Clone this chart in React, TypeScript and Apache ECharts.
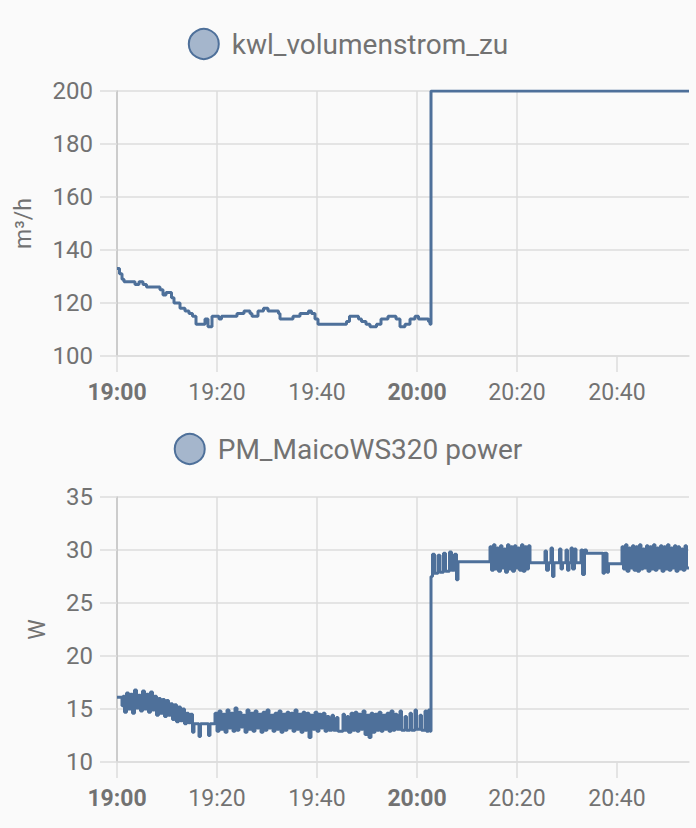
import React, { useEffect, useRef } from "react";
import * as echarts from "echarts";

// minutes after 19:00
const xTickMinutes = [0, 20, 40, 60, 80, 100];
const xMax = 114.4;

const topName = "kwl_volumenstrom_zu";
const topUnit = "m³/h";
const topData: [number, number][] = [
  [0, 133], [0.5, 131], [1.0, 129], [1.4, 128], [3.6, 127], [4.4, 128], [5.2, 127], [5.9, 126],
  [8.6, 125], [9.2, 123], [9.8, 124], [10.9, 122], [11.4, 120], [12.6, 118], [13.6, 117],
  [14.4, 116], [15.1, 115], [15.8, 112], [17.6, 114], [18.2, 111], [19.0, 115], [20.4, 114],
  [20.9, 115], [24.0, 116], [25.4, 117], [26.6, 116], [27.0, 115], [28.2, 117], [29.3, 118],
  [30.2, 117], [32.3, 116], [32.6, 114], [34.9, 114], [35.2, 115], [36.6, 116], [38.3, 117],
  [38.9, 116], [39.6, 114], [40.2, 112], [45.9, 113], [46.5, 115], [48.3, 114], [48.9, 113],
  [49.8, 112], [50.6, 111], [51.9, 112], [52.8, 114], [54.2, 115], [55.8, 114], [56.6, 111],
  [57.6, 112], [58.6, 114], [59.6, 115], [60.3, 114], [62.3, 113], [62.6, 112], [62.8, 200],
  [114.4, 200],
];

const bottomName = "PM_MaicoWS320 power";
const bottomUnit = "W";
const bottomData: [number, number][] = [
  [0, 16.1], [1.0, 15.3], [1.2, 16.2], [1.5, 14.7], [1.9, 16.5], [2.3, 15.0], [2.7, 16.4], [3.1, 14.6],
  [3.5, 16.8], [3.9, 15.1], [4.3, 16.3], [4.7, 14.8], [5.1, 16.7], [5.5, 15.0], [5.9, 16.4], [6.3, 14.7],
  [6.7, 16.6], [7.1, 14.9], [7.5, 16.2], [7.9, 14.4], [8.3, 16.0], [8.7, 14.6], [9.1, 15.9], [9.5, 14.3],
  [9.9, 15.8], [10.3, 14.4], [10.7, 15.5], [11.1, 14.0], [11.5, 15.4], [11.9, 13.8], [12.3, 15.2],
  [12.7, 13.9], [13.1, 15.0], [13.5, 13.6], [13.9, 14.6], [14.3, 13.7], [14.7, 14.5], [15.1, 12.8],
  [15.4, 13.6], [16.4, 12.4], [16.7, 13.6], [18.3, 12.5], [18.6, 13.6], [19.6, 14.6],
  [20.0, 12.9], [20.4, 14.8], [20.8, 13.1], [21.2, 14.5], [21.6, 12.8], [22.0, 14.9], [22.4, 13.2],
  [22.8, 14.6], [23.2, 12.9], [23.6, 15.1], [24.0, 13.0], [24.4, 14.7], [24.8, 13.3], [25.2, 14.4],
  [25.6, 12.8], [26.0, 14.9], [26.4, 13.1], [26.8, 14.6], [27.2, 12.9], [27.6, 14.8], [28.0, 13.2],
  [28.4, 14.5], [28.8, 12.8], [29.2, 14.7], [29.6, 13.0], [30.0, 14.9], [30.4, 13.2], [30.8, 14.4],
  [31.2, 12.9], [31.6, 14.6], [32.0, 13.1], [32.4, 14.8], [32.8, 12.8], [33.2, 14.5], [33.6, 13.0],
  [34.0, 14.7], [34.4, 13.2], [34.8, 14.6], [35.2, 12.9], [35.6, 14.9], [36.0, 13.1], [36.4, 14.5],
  [36.8, 12.8], [37.2, 14.7], [37.6, 13.0], [38.0, 14.6], [38.4, 12.3], [38.8, 14.4], [39.2, 13.1],
  [39.6, 14.7], [40.0, 12.9], [40.4, 14.5], [40.8, 13.2], [41.2, 14.6], [41.6, 12.9], [42.0, 14.3],
  [42.4, 13.0], [43.0, 14.4], [43.3, 13.0], [43.9, 14.2], [44.2, 12.9], [45.2, 14.5], [45.5, 13.0],
  [46.0, 14.3], [46.3, 12.8], [46.8, 14.6],
  [47.2, 13.0], [47.6, 14.7], [48.0, 12.9], [48.4, 14.5], [48.8, 13.1], [49.2, 14.8], [49.6, 12.6],
  [50.0, 14.4], [50.4, 12.3], [50.8, 14.6], [51.2, 12.8], [51.6, 14.5], [52.0, 13.0], [52.4, 14.7],
  [52.8, 12.9], [53.2, 14.4], [53.6, 13.1], [54.0, 14.6], [54.4, 12.9], [54.8, 14.8], [55.2, 13.0],
  [55.6, 14.5], [56.0, 13.1],
  [56.6, 14.8], [56.9, 13.0], [57.6, 14.3], [57.9, 13.0], [58.6, 14.6], [58.9, 13.0], [59.6, 14.9],
  [59.9, 13.1], [60.6, 14.4], [60.9, 13.0], [61.6, 14.8], [61.9, 12.9], [62.3, 14.9], [62.6, 12.9],
  [62.8, 27.5], [63.1, 29.6], [63.5, 27.8], [64.2, 29.5], [64.6, 27.9], [65.3, 29.7], [65.7, 28.0],
  [66.5, 29.8], [66.9, 28.1], [67.5, 29.6], [67.9, 27.2], [68.2, 28.9],
  [74.6, 30.3], [74.9, 28.1], [75.3, 30.5], [75.6, 28.2], [76.0, 30.2], [76.3, 28.0], [76.7, 30.4],
  [77.0, 28.3], [77.4, 30.1], [77.7, 27.9], [78.1, 30.5], [78.4, 28.2], [78.8, 30.3], [79.1, 28.0],
  [79.5, 30.4], [79.8, 28.3], [80.2, 30.2], [80.5, 28.1], [80.9, 30.5], [81.2, 28.0], [81.6, 30.3],
  [81.9, 28.2], [82.3, 30.4], [82.6, 28.8],
  [85.6, 29.9], [85.9, 28.1], [86.3, 28.8], [86.8, 30.2], [87.1, 27.5], [87.4, 28.8], [88.5, 30.1],
  [88.8, 28.2], [89.1, 28.8], [89.8, 30.0], [90.1, 28.1], [90.4, 28.8], [90.8, 30.2], [91.1, 28.2],
  [91.5, 30.1], [91.8, 28.8], [92.8, 30.0], [93.1, 27.7], [93.5, 30.0], [93.9, 29.7],
  [97.2, 27.8], [97.5, 29.7], [98.0, 27.9], [98.3, 28.7],
  [101.0, 30.3], [101.3, 28.2], [101.7, 30.5], [102.0, 28.0], [102.4, 30.2], [102.7, 28.3], [103.1, 30.4],
  [103.4, 28.1], [103.8, 30.3], [104.1, 28.0], [104.5, 30.5], [104.8, 28.2], [105.2, 30.1], [105.5, 28.3],
  [105.9, 30.4], [106.2, 28.0], [106.6, 30.3], [106.9, 28.2], [107.3, 30.5], [107.6, 28.1], [108.0, 30.2],
  [108.3, 28.3], [108.7, 30.4], [109.0, 28.0], [109.4, 30.3], [109.7, 28.2], [110.1, 30.5], [110.4, 28.1],
  [110.8, 30.2], [111.1, 28.3], [111.5, 30.4], [111.8, 28.0], [112.2, 30.3], [112.5, 28.2], [112.9, 30.1],
  [113.2, 28.1], [113.6, 30.4], [113.9, 28.3], [114.4, 28.3],
];

const lineColor = "#4e709a";
const legendFill = "#a5b6cc";
const textColor = "#727272";
const gridColor = "#dcdcdc";
const font = "Roboto";

function fmtTime(v: number) {
  const total = 19 * 60 + Math.round(v);
  const h = Math.floor(total / 60);
  const m = total % 60;
  const s = `${h}:${m < 10 ? "0" + m : m}`;
  return m === 0 ? `{b|${s}}` : s;
}

export default function App() {
  const ref = useRef<HTMLDivElement>(null);
  useEffect(() => {
    if (!ref.current) return;
    const chart = echarts.init(ref.current, undefined, { renderer: "svg" });
    const xAxisBase = (gridIndex: number) => ({
      type: "value",
      gridIndex,
      min: 0,
      max: xMax,
      interval: 20,
      axisLine: { show: true, lineStyle: { color: gridColor, width: 1.5 } },
      axisTick: { show: true, length: 16, customValues: xTickMinutes, lineStyle: { color: gridColor, width: 1.5 } },
      splitLine: { show: true, showMaxLine: false, lineStyle: { color: gridColor, width: 1.5 } },
      axisLabel: {
        customValues: xTickMinutes,
        formatter: (v: number) => fmtTime(v),
        color: textColor,
        fontSize: 23,
        fontFamily: font,
        margin: 25,
        rich: { b: { fontWeight: "bold", fontSize: 23, fontFamily: font, color: textColor } },
      },
    });
    const yAxisBase = (
      gridIndex: number,
      min: number,
      max: number,
      interval: number,
      name: string,
      nameGap: number
    ) => ({
      type: "value",
      gridIndex,
      min,
      max,
      interval,
      name,
      nameLocation: "middle",
      nameGap,
      nameTextStyle: { color: textColor, fontSize: 23, fontFamily: font },
      axisLine: { show: true, lineStyle: { color: "#c4c4c4", width: 1.5 } },
      axisTick: { show: true, length: 17, lineStyle: { color: gridColor, width: 1.5 } },
      splitLine: { show: true, lineStyle: { color: gridColor, width: 1.5 } },
      axisLabel: { color: textColor, fontSize: 24, fontFamily: font, margin: 24 },
    });
    const legendBase = (name: string, top: number) => ({
      data: [name],
      top,
      left: "center",
      icon: "circle",
      itemWidth: 30,
      itemHeight: 30,
      itemStyle: { color: legendFill, borderColor: lineColor, borderWidth: 2 },
      textStyle: { color: textColor, fontSize: 28, fontFamily: font, padding: [0, 0, 0, 8] },
    });
    chart.setOption({
      animation: false,
      backgroundColor: "#fafafa",
      legend: [legendBase(topName, 23), legendBase(bottomName, 428)],
      grid: [
        { left: 117, right: 7, top: 91, height: 265 },
        { left: 117, right: 7, top: 497, height: 265 },
      ],
      xAxis: [xAxisBase(0), xAxisBase(1)],
      yAxis: [
        yAxisBase(0, 100, 200, 20, topUnit, 82),
        yAxisBase(1, 10, 35, 5, bottomUnit, 68),
      ],
      series: [
        {
          name: topName,
          type: "line",
          xAxisIndex: 0,
          yAxisIndex: 0,
          step: "end",
          showSymbol: false,
          data: topData,
          lineStyle: { color: lineColor, width: 3 },
          itemStyle: { color: lineColor },
        },
        {
          name: bottomName,
          type: "line",
          xAxisIndex: 1,
          yAxisIndex: 1,
          step: "end",
          showSymbol: false,
          data: bottomData,
          lineStyle: { color: lineColor, width: 3 },
          itemStyle: { color: lineColor },
        },
      ],
    });
    return () => chart.dispose();
  }, []);
  return (
    <div
      ref={ref}
      style={{ position: "fixed", left: 0, top: 0, width: 696, height: 828, background: "#fafafa" }}
    />
  );
}
